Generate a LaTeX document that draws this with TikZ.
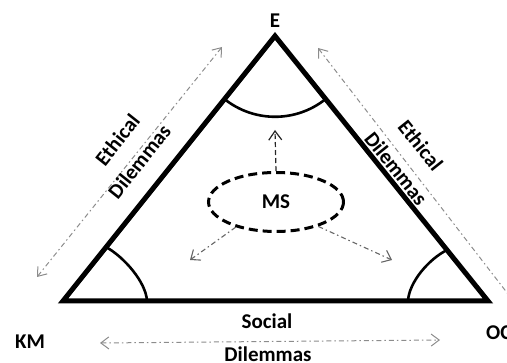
\documentclass[tikz,border=0pt]{standalone}
\usepackage{fontspec}
\setmainfont{Carlito}
\usetikzlibrary{arrows.meta,shapes.geometric}
\begin{document}
\begin{tikzpicture}[x=1pt,y=-1pt,
  side/.style={line width=5pt, line join=miter},
  anglearc/.style={line width=2.6pt},
  lbl/.style={font=\fontsize{21}{25}\selectfont\bfseries, inner sep=0pt},
  ethicarrow/.style={draw=black!45, line width=1pt, dash pattern=on 5pt off 3pt on 1.5pt off 3pt},
  msarrow/.style={draw=black!60, line width=1.1pt, dash pattern=on 5pt off 3pt on 1.5pt off 3pt, arrows={-Straight Barb[length=8pt,width=13pt]}},
  uparrow/.style={draw=black!85, line width=1.2pt, dash pattern=on 5pt off 3pt, arrows={-Straight Barb[length=9pt,width=13pt]}},
  msnode/.style={draw, ellipse, line width=3pt, dash pattern=on 9pt off 5pt, minimum width=135pt, minimum height=59pt, inner sep=0pt, font=\fontsize{21}{25}\selectfont\bfseries}
]
\useasboundingbox (0,0) rectangle (507,363);
% vertices
\coordinate (vKM) at (63,301);
\coordinate (vOC) at (488,301);
\coordinate (vE) at (275,36);
\draw[side] (vKM) -- (vE) -- (vOC) -- cycle;
% angle arcs
\coordinate (aT1) at (224.4,99);
\draw[anglearc] (aT1) arc[start angle=128.7, end angle=51.2, radius=81];
\coordinate (aL1) at (106,247);
\coordinate (aL2) at (147,301);
\draw[anglearc] (aL1) .. controls (124,257) and (146,282) .. (aL2);
\coordinate (aR1) at (447,250);
\coordinate (aR2) at (408,301);
\draw[anglearc] (aR1) .. controls (429,259) and (409,282) .. (aR2);
% MS ellipse
\node[msnode] (ms) at (276,202) {MS};
\coordinate (tipUp) at (275,130);
\coordinate (tipL) at (190,260);
\coordinate (tipR) at (392,260);
\draw[uparrow] (ms.north) -- (tipUp);
\draw[msarrow] (ms.212) -- (tipL);
\draw[msarrow] (ms.330) -- (tipR);
% ethical dilemma arrows
\coordinate (eL1) at (222,47);
\coordinate (eL2) at (37,277);
\draw[ethicarrow, arrows={Straight Barb[length=8pt,width=12pt]-Straight Barb[length=8pt,width=12pt]}] (eL1) -- (eL2);
\coordinate (eR1) at (318,48);
\coordinate (eR2) at (508,294);
\draw[ethicarrow, arrows={Straight Barb[length=8pt,width=12pt]-}] (eR1) -- (eR2);
\coordinate (sL) at (100,343);
\coordinate (sR) at (440,340);
\draw[ethicarrow, arrows={Straight Barb[length=8pt,width=12pt]-Straight Barb[length=8pt,width=12pt]}] (sL) -- (sR);
% labels
\node[lbl, anchor=base] (lE) at (275,28) {E};
\node[lbl, anchor=base west] (lKM) at (15,349) {KM};
\node[lbl, anchor=base west] (lOC) at (486,340) {OC};
\node[lbl, anchor=base] (soc1) at (267,329) {Social};
\node[lbl, anchor=base] (soc2) at (268,362) {Dilemmas};
\node[lbl, anchor=base, rotate=51.5] (le1) at (123,144.5) {Ethical};
\node[lbl, anchor=base, rotate=51.5] (le2) at (145,166) {Dilemmas};
\node[lbl, anchor=base, rotate=-51.3] (re1) at (415,150) {Ethical};
\node[lbl, anchor=base, rotate=-51.3] (re2) at (390.5,173) {Dilemmas};
\end{tikzpicture}
\end{document}
